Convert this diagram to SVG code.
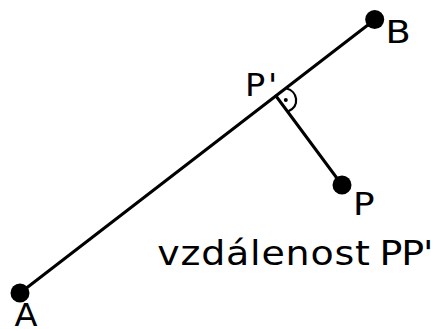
<svg xmlns="http://www.w3.org/2000/svg" width="431" height="329" viewBox="0 0 431 329">
<style>
.ln{stroke:#000;stroke-width:3;fill:none;stroke-linecap:round}
.arc{stroke:#000;stroke-width:2.2;fill:none}
.pt{fill:#000}
.lbl{font-family:"DejaVu Sans","Verdana",sans-serif;font-size:32px;fill:#000}
</style>
<rect width="431" height="329" fill="#fff"/>
<g id="connectors">
<line class="ln" x1="20" y1="293" x2="375" y2="19.5"/>
<line class="ln" x1="276" y1="96" x2="342" y2="185"/>
<path class="arc" d="M286.5,88.5 C297.5,91 300.5,106 288,111.5"/>
<circle class="pt" cx="285.8" cy="100" r="2"/>
</g>
<g id="A"><circle class="pt" cx="20" cy="293" r="9.5"/><text class="lbl" transform="translate(14.5,326) scale(1.05,1)">A</text></g>
<g id="B"><circle class="pt" cx="374.7" cy="19.5" r="9.5"/><text class="lbl" transform="translate(385.5,42.5) scale(1.15,1)">B</text></g>
<g id="P"><circle class="pt" cx="342" cy="185" r="9.5"/><text class="lbl" transform="translate(353,215) scale(1.12,1)">P</text></g>
<g id="Pprime"><text class="lbl" transform="translate(245,95.7) scale(1.05,1)" letter-spacing="2.5">P'</text></g>
<g id="label"><text class="lbl" transform="translate(157.2,265) scale(1.15,1)" style="font-size:33px"><tspan letter-spacing="0.7">vzdálenost</tspan> <tspan x="193.4" letter-spacing="-1">PP'</tspan></text></g>
</svg>
